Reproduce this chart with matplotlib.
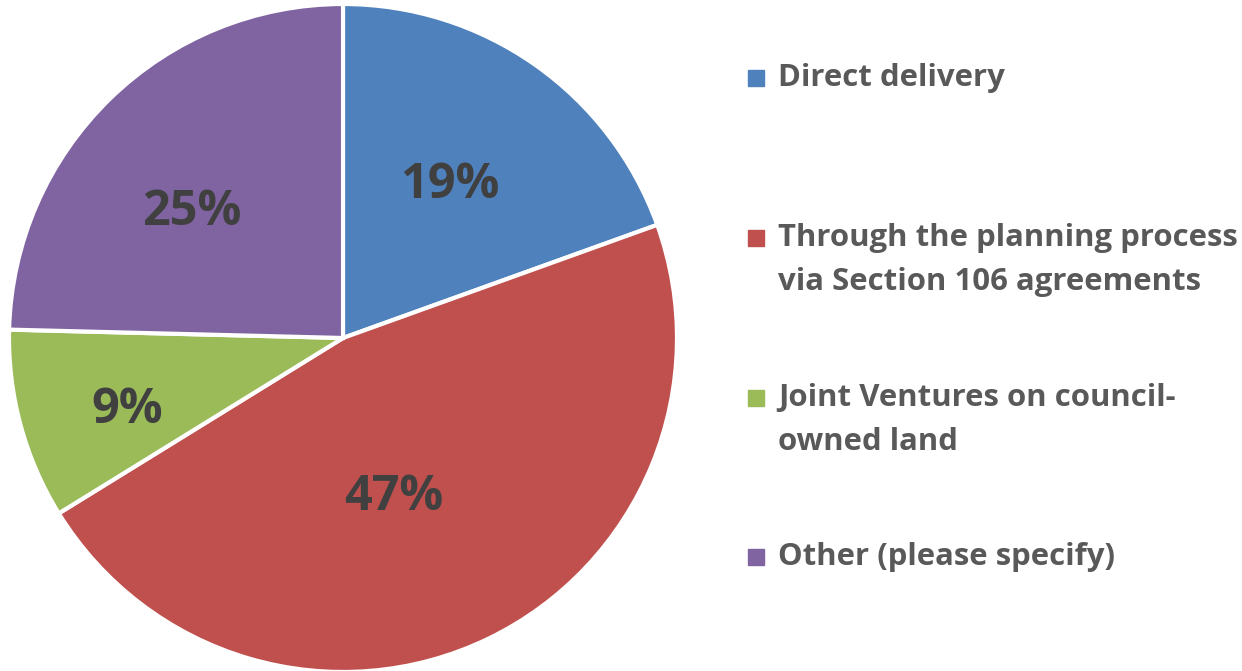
import numpy as np
import matplotlib.pyplot as plt
from matplotlib.patches import Rectangle

categories = ['Direct delivery',
              'Through the planning process\nvia Section 106 agreements',
              'Joint Ventures on council-\nowned land',
              'Other (please specify)']
shares = [19.5, 46.7, 9.2, 24.6]
pct_labels = ['19%', '47%', '9%', '25%']
colors = ['#4F81BD', '#C0504D', '#9BBB59', '#8064A2']

W, H = 1242, 671
fig = plt.figure(figsize=(W / 100, H / 100), dpi=100)

# pie centred at (343, 338) px, radius ~334 px
cx, cy, r = 343, 338, 334
ax = fig.add_axes([(cx - r) / W, (H - cy - r) / H, 2 * r / W, 2 * r / H])
wedges, _ = ax.pie(shares, colors=colors, startangle=90, counterclock=False,
                   radius=1.0,
                   wedgeprops=dict(edgecolor='white', linewidth=3))
ax.set_xlim(-1.0, 1.0)
ax.set_ylim(-1.0, 1.0)
ax.set_aspect('equal')
ax.axis('off')

# percentage labels, placed like Excel's "best fit"
label_dist = [0.557, 0.502, 0.683, 0.588]
angle_shift = [0, -8, 3.4, 6]
for w, txt, d, s in zip(wedges, pct_labels, label_dist, angle_shift):
    mid = np.deg2rad((w.theta1 + w.theta2) / 2 + s)
    ax.text(d * np.cos(mid), d * np.sin(mid), txt, ha='center', va='center',
            fontsize=35, fontweight='bold', color='#404040', family='Open Sans')

# legend drawn by hand in pixel coordinates
entry_y = [78, 260, 420, 557]
for cat, col, y in zip(categories, colors, entry_y):
    nlines = cat.count('\n') + 1
    top_y = y - (nlines - 1) * 22.5
    fig.add_artist(Rectangle((748 / W, 1 - (top_y + 8) / H), 16 / W, 16 / H,
                             transform=fig.transFigure, color=col))
    fig.text(778 / W, 1 - y / H, cat, ha='left', va='center',
             fontsize=22.4, fontweight='bold', color='#595959',
             family='Open Sans', linespacing=1.58)

fig.savefig('out.png', dpi=100)
